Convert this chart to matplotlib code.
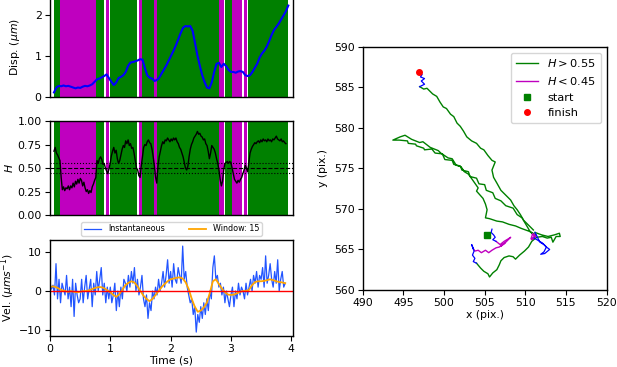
import matplotlib
matplotlib.use("Agg")
import matplotlib.pyplot as plt
import numpy as np

# ---- displacement (um) vs time (s)
disp_t = [0.00, 0.04, 0.08, 0.12, 0.16, 0.20, 0.24, 0.28, 0.32, 0.36, 0.40, 0.44, 0.48, 0.52,
          0.56, 0.60, 0.64, 0.68, 0.72, 0.76, 0.80, 0.84, 0.88, 0.92, 0.96, 1.00, 1.04, 1.08,
          1.12, 1.16, 1.20, 1.24, 1.28, 1.32, 1.36, 1.40, 1.44, 1.48, 1.52, 1.56, 1.60, 1.64,
          1.68, 1.72, 1.76, 1.80, 1.84, 1.88, 1.92, 1.96, 2.00, 2.04, 2.08, 2.12, 2.16, 2.20,
          2.24, 2.28, 2.32, 2.36, 2.40, 2.44, 2.48, 2.52, 2.56, 2.60, 2.64, 2.68, 2.72, 2.76,
          2.80, 2.84, 2.88, 2.92, 2.96, 3.00, 3.04, 3.08, 3.12, 3.16, 3.20, 3.24, 3.28, 3.32,
          3.36, 3.40, 3.44, 3.48, 3.52, 3.56, 3.60, 3.64, 3.68, 3.72, 3.76, 3.80, 3.84, 3.88, 3.92]
disp_v = [0.10, 0.22, 0.26, 0.25, 0.27, 0.25, 0.26, 0.24, 0.22, 0.20, 0.22, 0.21, 0.24, 0.26,
          0.25, 0.27, 0.30, 0.36, 0.42, 0.44, 0.47, 0.50, 0.54, 0.45, 0.36, 0.28, 0.34, 0.45,
          0.48, 0.52, 0.60, 0.75, 0.83, 0.84, 0.86, 0.88, 0.91, 0.90, 0.70, 0.52, 0.46, 0.44,
          0.38, 0.40, 0.46, 0.56, 0.66, 0.76, 0.88, 1.00, 1.12, 1.25, 1.40, 1.55, 1.68, 1.72,
          1.71, 1.72, 1.60, 1.30, 1.00, 0.75, 0.52, 0.35, 0.22, 0.20, 0.35, 0.60, 0.80, 0.82,
          0.72, 0.80, 0.74, 0.65, 0.60, 0.60, 0.58, 0.61, 0.62, 0.60, 0.52, 0.50, 0.52, 0.60,
          0.70, 0.80, 0.95, 1.05, 1.12, 1.22, 1.35, 1.50, 1.62, 1.70, 1.78, 1.88, 1.98, 2.08, 2.22]

# ---- Hurst exponent, sampled every 0.02 s
h_dt = 0.02
h_vals = [0.68, 0.72, 0.66, 0.64, 0.61, 0.58, 0.40, 0.27, 0.30, 0.26, 0.29, 0.28, 0.31, 0.27,
          0.31, 0.29, 0.34, 0.30, 0.36, 0.33, 0.38, 0.34, 0.39, 0.37, 0.31, 0.35, 0.29, 0.25,
          0.27, 0.23, 0.26, 0.24, 0.30, 0.33, 0.37, 0.40, 0.58, 0.55, 0.60, 0.62, 0.59, 0.54,
          0.55, 0.50, 0.47, 0.44, 0.49, 0.55, 0.63, 0.68, 0.72, 0.66, 0.69, 0.60, 0.55, 0.58,
          0.64, 0.70, 0.74, 0.72, 0.79, 0.76, 0.80, 0.74, 0.76, 0.71, 0.72, 0.66, 0.58, 0.50,
          0.48, 0.42, 0.40, 0.52, 0.62, 0.72, 0.75, 0.74, 0.78, 0.80, 0.77, 0.76, 0.70, 0.62,
          0.52, 0.40, 0.34, 0.52, 0.62, 0.68, 0.74, 0.78, 0.76, 0.80, 0.79, 0.82, 0.80, 0.78,
          0.81, 0.79, 0.82, 0.80, 0.82, 0.78, 0.76, 0.72, 0.70, 0.66, 0.62, 0.56, 0.50, 0.48,
          0.52, 0.62, 0.70, 0.75, 0.78, 0.82, 0.84, 0.86, 0.89, 0.86, 0.87, 0.84, 0.83, 0.80,
          0.81, 0.76, 0.74, 0.68, 0.60, 0.66, 0.74, 0.72, 0.70, 0.66, 0.60, 0.55, 0.48, 0.38,
          0.31, 0.36, 0.48, 0.55, 0.56, 0.57, 0.55, 0.57, 0.56, 0.50, 0.44, 0.38, 0.36, 0.34,
          0.37, 0.35, 0.38, 0.40, 0.44, 0.48, 0.53, 0.50, 0.46, 0.56, 0.66, 0.70, 0.73, 0.75,
          0.77, 0.76, 0.78, 0.79, 0.77, 0.80, 0.78, 0.81, 0.79, 0.80, 0.78, 0.81, 0.79, 0.80,
          0.78, 0.81, 0.80, 0.82, 0.84, 0.81, 0.80, 0.79, 0.81, 0.78, 0.79, 0.77, 0.76]

# ---- state bands (g: H > 0.55, m: H < 0.45)
band_start = [0.00, 0.10, 0.70, 0.87, 0.94, 1.42, 1.47, 1.68, 1.73, 2.76, 2.86, 2.98, 3.18, 3.25]
band_end = [0.10, 0.70, 0.84, 0.92, 1.39, 1.47, 1.68, 1.73, 2.76, 2.85, 2.98, 3.15, 3.23, 3.92]
band_state = ["g", "m", "g", "m", "g", "m", "g", "m", "g", "m", "g", "m", "m", "g"]

# ---- velocity (um/s), instantaneous every 0.025 s, windowed every 0.05 s
vel_dt = 0.025
vel_inst = [2, 0.5, 1.5, -1, 7, -2, 3, -3, 2, 0.5, -1, 4, -2, 1, -4, 3, -6.5, 2, -1, -3,
            -2, 3, -3, 1, 4, -2, 0.5, 3, -4, 2, -1, 5, 0, 3, 6, -1, 2, -3, 1, -2,
            1, -3, -1, 2, -5, 0, -4, 1, -2, 3, 2, 0, 4, 1, 5, 2, 6, 0, 3, -1,
            1, 4, -2, -4, -1, -7, -3, -5, 0, -2, 1, -1, 3, 0, 2, 5, 1, 4, 8, 2,
            5, 1, 7, 3, 2, 6, 4, 2, 11.5, 3, 5, 1, -1, -3, -2, -6, -4, -10.5, -6, -8,
            -4, -7, -3, -6, -2, -5, 0, -2, 6, 9, 3, 4, 1, 2, -1, 1, -3, 0, -2, -4,
            -1, 1, -4, 0, -2, 2, -1, 1, 0, -2, 2, -1, 1, 3, 0, 4, 2, 5, 1, 4,
            3, 6, 1, 9, 2, 4, 7, 3, 1, 5, 2, 8, 0, 3, 5, 1, 2]
win_dt = 0.05
vel_win = [1.0, 1.2, 1.0, 0.6, 0.2, 0.0, -0.2, 0.0, -0.2, -0.3, -0.2, 0.0, 0.0, 0.2, 0.5, 0.8,
           1.0, 1.0, 0.7, 0.2, -0.3, -1.0, -1.5, -0.8, 0.3, 1.5, 2.1, 2.5, 2.2, 1.2, 0.0, -1.2,
           -2.0, -2.6, -2.0, -1.0, 0.0, 1.0, 1.8, 2.5, 3.0, 3.2, 3.4, 3.5, 3.2, 2.2, 0.5, -2.0,
           -4.0, -5.3, -5.0, -4.2, -3.0, -0.5, 2.5, 3.0, 1.8, 0.6, -0.3, -0.9, -1.0, -0.9, -0.6,
           -0.2, 0.0, 0.0, 0.3, 1.5, 2.3, 2.5, 2.5, 2.6, 2.8, 3.0, 2.8, 2.5, 2.3, 2.2, 2.0]

# ---- trajectory pieces (pixels)
blue_a_x = [505.9, 505.8, 506.1, 506.3, 506.0, 506.4]
blue_a_y = [567.5, 567.1, 566.8, 566.5, 566.2, 566.0]
mag_a_x = [506.4, 506.9, 507.4, 507.9, 508.2, 507.6, 507.0, 507.5, 506.8, 506.4, 505.9, 505.5,
           505.1, 504.6, 504.2, 503.8, 503.6]
mag_a_y = [566.0, 565.6, 566.0, 566.3, 566.5, 565.9, 565.4, 565.8, 565.3, 565.2, 564.9, 564.6,
           564.9, 564.6, 564.9, 564.8, 565.1]
blue_b_x = [503.6, 503.4, 503.7, 503.5, 503.8, 503.6, 504.0]
blue_b_y = [565.1, 565.6, 564.8, 564.3, 563.9, 563.5, 563.3]
green_a_x = [504.0, 504.5, 504.9, 505.4, 505.6, 506.0, 506.5, 506.8, 507.0, 507.4, 508.0, 508.5,
             508.8, 509.3, 509.9, 510.4, 510.8, 511.4, 512.1, 512.7, 513.2, 513.4, 513.8, 514.3,
             514.2, 513.6, 512.8, 512.0, 511.2]
green_a_y = [563.3, 562.7, 562.3, 562.0, 561.6, 562.1, 562.5, 563.1, 563.6, 564.0, 564.2, 564.1,
             563.8, 564.3, 564.8, 565.3, 566.0, 566.5, 566.6, 566.4, 566.5, 565.9, 566.6, 566.6,
             567.0, 566.8, 566.6, 566.8, 567.1]
blue_c_x = [511.2, 511.5, 511.8, 512.3, 512.6, 512.3, 511.9, 512.4, 513.0, 512.6, 512.1, 511.6, 511.1]
blue_c_y = [567.1, 566.5, 565.9, 565.6, 565.3, 564.7, 564.4, 564.5, 565.0, 565.3, 565.8, 566.1, 566.4]
mag_b_x = [511.1, 510.7, 510.9, 511.3, 510.8, 511.2, 510.9]
mag_b_y = [566.4, 566.3, 566.9, 566.6, 566.2, 566.8, 566.9]
green_b_x = [510.9, 510.6, 509.6, 509.0, 508.5, 507.6, 507.0, 506.3, 506.0, 505.2, 505.0, 504.3,
             504.0, 503.2, 503.0, 502.2, 502.0, 501.2, 501.0, 500.1, 499.8, 498.9, 498.5, 497.6,
             497.5, 496.6, 496.5, 495.6, 495.5, 494.5, 493.7, 494.6, 495.2, 496.0, 497.0, 497.4,
             498.3, 499.3, 499.6, 500.5, 501.0, 501.5, 502.1, 502.5, 503.0, 503.5, 504.2, 504.0,
             504.8, 505.1, 505.3, 505.1, 505.6, 506.5, 507.2, 508.0, 508.8, 509.5, 510.6, 511.3]
green_b_y = [566.9, 567.2, 568.9, 569.3, 570.1, 570.4, 571.0, 571.3, 572.0, 572.3, 573.0, 573.1,
             573.8, 574.0, 574.6, 574.8, 575.3, 575.5, 576.0, 576.1, 576.8, 576.9, 577.4, 577.3,
             577.5, 577.8, 578.0, 578.1, 578.4, 578.5, 578.5, 578.9, 579.1, 578.6, 578.2, 578.3,
             577.6, 577.2, 576.9, 576.3, 576.2, 575.4, 575.2, 574.6, 574.3, 573.6, 572.6, 572.2,
             571.3, 570.6, 569.9, 568.9, 568.8, 568.5, 568.4, 568.1, 567.9, 567.6, 567.2, 566.8]
green_c_x = [511.0, 510.4, 509.8, 509.4, 509.0, 508.6, 508.2, 507.7, 507.0, 506.5, 506.1, 505.9,
             506.3, 505.9, 505.4, 504.9, 504.5, 504.0, 503.4, 502.8, 502.4, 502.0, 501.6, 501.2,
             500.8, 500.3, 499.9, 499.5, 499.1, 498.6, 497.9, 497.5, 497.0]
green_c_y = [567.4, 568.0, 568.6, 569.3, 569.9, 570.4, 571.1, 571.6, 572.3, 573.2, 573.9, 574.8,
             575.8, 576.0, 576.6, 577.3, 577.5, 578.1, 578.4, 578.9, 579.6, 580.2, 580.6, 581.4,
             581.7, 582.4, 582.6, 583.2, 583.9, 584.2, 584.9, 584.8, 585.1]
blue_d_x = [497.0, 497.6, 497.2, 497.6, 497.1, 497.3, 497.0]
blue_d_y = [585.1, 585.4, 585.8, 586.1, 586.3, 586.6, 586.9]
start_xy = (505.3, 566.8)
finish_xy = (496.9, 586.9)

fs = 7.8
plt.rcParams["font.size"] = fs
plt.rcParams["axes.linewidth"] = 1.0
plt.rcParams["ytick.major.pad"] = 2.5
plt.rcParams["xtick.major.pad"] = 2.5

fig = plt.figure(figsize=(6.17, 3.67), dpi=100)
ax1 = fig.add_axes([0.081, 0.737, 0.394, 0.268])
ax2 = fig.add_axes([0.081, 0.414, 0.394, 0.256])
ax3 = fig.add_axes([0.081, 0.0845, 0.394, 0.262])
ax4 = fig.add_axes([0.588, 0.210, 0.395, 0.662])

band_col = {"g": "green", "m": "m"}
for ax in (ax1, ax2):
    for s, e, st in zip(band_start, band_end, band_state):
        ax.axvspan(s, e, color=band_col[st], lw=0)
    ax.set_xlim(-0.067, 4.0)
    ax.set_xticks([])

ax1.plot(disp_t, disp_v, color="b", lw=1.5)
ax1.set_ylim(0, 2.4)
ax1.set_yticks([0, 1, 2])
ax1.set_ylabel(r"Disp. ($\mu m$)")
ax1.yaxis.set_label_coords(-0.115, 0.5)

h_t = np.arange(len(h_vals)) * h_dt
ax2.plot(h_t, h_vals, color="k", lw=1.0)
ax2.axhline(0.5, color="k", ls="--", lw=0.8)
ax2.axhline(0.55, color="k", ls=":", lw=0.8)
ax2.axhline(0.45, color="k", ls=":", lw=0.8)
ax2.set_ylim(0, 1)
ax2.set_yticks([0, 0.25, 0.5, 0.75, 1.0])
ax2.set_yticklabels(["0.00", "0.25", "0.50", "0.75", "1.00"])
ax2.set_ylabel(r"$H$")
ax2.yaxis.set_label_coords(-0.145, 0.5)

vt = np.arange(len(vel_inst)) * vel_dt
wt = np.arange(len(vel_win)) * win_dt
ax3.plot(vt, vel_inst, color="#2255ff", lw=0.9, label="Instantaneous")
ax3.plot(wt, vel_win, color="orange", lw=1.3, label="Window: 15")
ax3.axhline(0, color="red", lw=1.0)
ax3.set_xlim(0, 4.03)
ax3.set_ylim(-11.5, 13.1)
ax3.set_xticks([0, 1, 2, 3, 4])
ax3.set_yticks([-10, 0, 10])
ax3.set_xlabel("Time (s)", labelpad=1)
ax3.set_ylabel(r"Vel. ($\mu m s^{-1}$)")
ax3.yaxis.set_label_coords(-0.135, 0.5)
ax3.legend(loc="lower center", bbox_to_anchor=(0.5, 1.0), ncol=2, fontsize=5.8,
           frameon=True, borderpad=0.3, columnspacing=3.0, handlelength=2.2)

ax4.plot(green_a_x, green_a_y, color="green", lw=1.0, label=r"$H > 0.55$")
ax4.plot(green_b_x, green_b_y, color="green", lw=1.0)
ax4.plot(green_c_x, green_c_y, color="green", lw=1.0)
ax4.plot(mag_a_x, mag_a_y, color="m", lw=1.0, label=r"$H < 0.45$")
ax4.plot(mag_b_x, mag_b_y, color="m", lw=1.0)
for bx, by in ((blue_a_x, blue_a_y), (blue_b_x, blue_b_y), (blue_c_x, blue_c_y), (blue_d_x, blue_d_y)):
    ax4.plot(bx, by, color="b", lw=0.9)
ax4.plot([start_xy[0]], [start_xy[1]], "s", color="green", ms=4, ls="none", label="start")
ax4.plot([finish_xy[0]], [finish_xy[1]], "o", color="red", ms=4, ls="none", label="finish")
ax4.set_xlim(490, 520)
ax4.set_ylim(560, 590)
ax4.set_xticks(range(490, 521, 5))
ax4.set_yticks(range(560, 591, 5))
ax4.set_xlabel("x (pix.)", labelpad=1)
ax4.set_ylabel("y (pix.)")
ax4.legend(loc="upper right", fontsize=8.2)

fig.savefig("out.png", dpi=100)
